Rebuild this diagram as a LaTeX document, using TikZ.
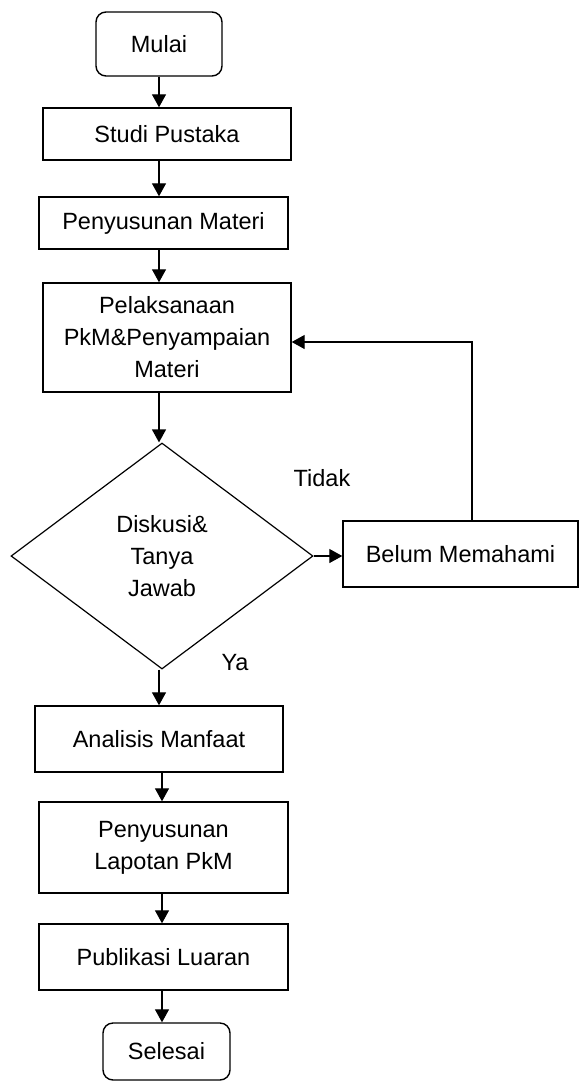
\documentclass[tikz,border=0pt]{standalone}
\usepackage{fontspec}
\setmainfont{Liberation Sans}
\usetikzlibrary{shapes.geometric,arrows.meta}

\begin{document}
\begin{tikzpicture}[x=1pt,y=-1pt,
    font=\fontsize{23.5}{32}\selectfont,
    box/.style={draw,line width=1.4pt,inner sep=0pt,align=center},
    term/.style={box,rounded corners=10pt},
    cond/.style={draw,line width=1.2pt,diamond,inner sep=0pt,align=center},
    arr/.style={line width=1.3pt,-{Triangle[length=13pt,width=14pt]}}]
            \useasboundingbox (0,0) rectangle (580,1082);
            \node[term,minimum width=126pt,minimum height=64pt] (mulai) at (159,44) {Mulai};
            \node[box,minimum width=248pt,minimum height=52pt] (studi) at (167,134) {Studi Pustaka};
            \node[box,minimum width=249pt,minimum height=52pt] (materi) at (163.5,223) {Penyusunan Materi};
            \node[box,minimum width=248pt,minimum height=109pt] (pelaks) at (167,337.5) {Pelaksanaan\\PkM\&Penyampaian\\Materi};
            \node[cond,minimum width=302pt,minimum height=226pt] (diskusi) at (162,556) {Diskusi\&\\Tanya\\Jawab};
            \node[box,minimum width=235pt,minimum height=66pt] (belum) at (460.5,554) {Belum Memahami};
            \node[box,minimum width=248pt,minimum height=66pt] (analisis) at (159,739) {Analisis Manfaat};
            \node[box,minimum width=249pt,minimum height=91pt] (lapotan) at (163.5,847.5) {Penyusunan\\Lapotan PkM};
            \node[box,minimum width=249pt,minimum height=66pt] (publikasi) at (163.5,957) {Publikasi Luaran};
            \node[term,minimum width=127pt,minimum height=57pt] (selesai) at (166.5,1051.5) {Selesai};
            \node (tidak) at (322,478) {Tidak};
            \node (ya) at (235,663) {Ya};
            \coordinate (top) at (159,0);
            \coordinate (bot) at (162,0);
            \coordinate (fb) at (472,342);

            \draw[arr] (mulai.south -| top) -- (studi.north -| top);
            \draw[arr] (studi.south -| top) -- (materi.north -| top);
            \draw[arr] (materi.south -| top) -- (pelaks.north -| top);
            \draw[arr] (pelaks.south -| top) -- (diskusi.north -| top);
            \draw[arr] (diskusi.east) -- (diskusi.east -| belum.west);
            \draw[arr] (belum.north -| fb) -- (fb) -- (fb -| pelaks.east);
            \draw[arr] (diskusi.south -| top) -- (analisis.north -| top);
            \draw[arr] (analisis.south -| bot) -- (lapotan.north -| bot);
            \draw[arr] (lapotan.south -| bot) -- (publikasi.north -| bot);
            \draw[arr] (publikasi.south -| bot) -- (selesai.north -| bot);
        \end{tikzpicture}
\end{document}
